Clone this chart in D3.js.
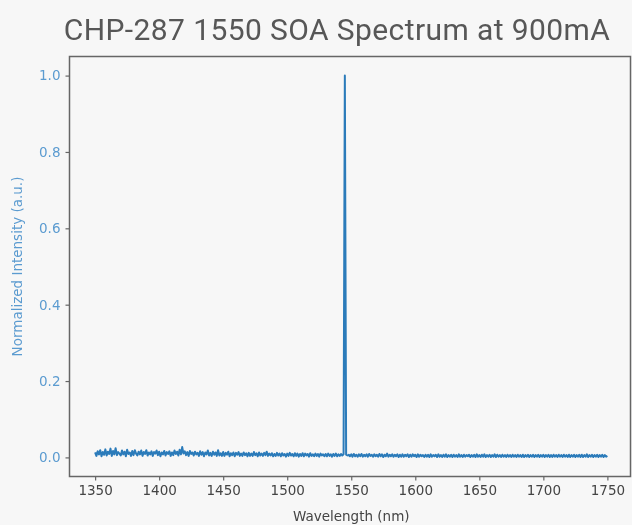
<!DOCTYPE html>
<html>
<head>
<meta charset="utf-8">
<script src="https://cdn.jsdelivr.net/npm/d3@7/dist/d3.min.js"></script>
<style>
  html, body { margin: 0; padding: 0; background: #f7f7f7; }
  svg { display: block; filter: blur(0.3px); }
</style>
</head>
<body>
<script>
// SOA spectrum, sampled every 1 nm from 1350 nm
const wavelengthStart = 1350;
const wavelengthStep = 1;
const intensity = [
  0.013,0.004,0.016,0.008,0.019,0.003,0.014,0.007,0.021,0.005,0.015,0.009,0.023,0.004,0.017,0.008,0.024,0.006,0.014,0.010,
  0.005,0.018,0.008,0.015,0.003,0.020,0.009,0.013,0.004,0.017,0.006,0.019,0.010,0.005,0.015,0.008,0.018,0.004,0.014,0.009,
  0.019,0.005,0.013,0.008,0.016,0.004,0.014,0.010,0.018,0.006,0.015,0.003,0.013,0.008,0.017,0.005,0.014,0.009,0.016,0.004,
  0.013,0.006,0.018,0.009,0.015,0.005,0.020,0.008,0.027,0.010,0.016,0.006,0.014,0.004,0.017,0.009,0.013,0.005,0.015,0.008,
  0.012,0.004,0.016,0.007,0.014,0.003,0.013,0.008,0.018,0.005,0.012,0.004,0.015,0.007,0.013,0.004,0.019,0.005,0.011,0.004,
  0.014,0.004,0.012,0.007,0.015,0.003,0.011,0.006,0.013,0.003,0.012,0.007,0.014,0.004,0.010,0.004,0.013,0.006,0.011,0.003,
  0.012,0.004,0.010,0.004,0.014,0.006,0.011,0.003,0.013,0.005,0.010,0.004,0.012,0.006,0.015,0.004,0.010,0.005,0.011,0.003,
  0.009,0.004,0.012,0.005,0.010,0.003,0.011,0.005,0.009,0.002,0.010,0.004,0.012,0.005,0.009,0.003,0.011,0.004,0.010,0.002,
  0.009,0.004,0.011,0.003,0.010,0.005,0.009,0.002,0.011,0.004,0.008,0.003,0.010,0.004,0.009,0.002,0.010,0.005,0.008,0.003,
  0.009,0.003,0.010,0.004,0.008,0.002,0.009,0.004,0.010,0.003,0.008,0.004,0.009,0.005,0.008,1.000,0.007,0.005,0.007,0.003,
  0.008,0.002,0.009,0.003,0.007,0.002,0.008,0.003,0.009,0.002,0.007,0.003,0.008,0.002,0.009,0.004,0.007,0.002,0.008,0.003,
  0.007,0.002,0.009,0.003,0.008,0.001,0.007,0.003,0.010,0.002,0.007,0.003,0.008,0.002,0.007,0.003,0.008,0.001,0.007,0.002,
  0.008,0.002,0.007,0.003,0.008,0.001,0.007,0.002,0.008,0.003,0.007,0.001,0.008,0.002,0.007,0.003,0.006,0.001,0.007,0.002,
  0.007,0.001,0.008,0.002,0.006,0.003,0.007,0.001,0.008,0.002,0.006,0.001,0.007,0.002,0.008,0.001,0.006,0.002,0.007,0.001,
  0.007,0.002,0.006,0.001,0.008,0.002,0.006,0.001,0.007,0.002,0.006,0.003,0.007,0.001,0.006,0.002,0.007,0.001,0.008,0.002,
  0.006,0.001,0.007,0.002,0.008,0.001,0.006,0.002,0.007,0.001,0.006,0.002,0.008,0.001,0.007,0.002,0.006,0.001,0.007,0.002,
  0.006,0.001,0.007,0.002,0.006,0.001,0.007,0.002,0.006,0.001,0.007,0.002,0.006,0.001,0.007,0.001,0.006,0.002,0.007,0.001,
  0.006,0.002,0.007,0.001,0.006,0.002,0.007,0.001,0.006,0.002,0.007,0.001,0.006,0.002,0.007,0.001,0.006,0.001,0.007,0.002,
  0.006,0.001,0.007,0.002,0.006,0.001,0.007,0.002,0.006,0.001,0.007,0.001,0.006,0.002,0.007,0.001,0.006,0.002,0.007,0.001,
  0.007,0.001,0.006,0.002,0.008,0.001,0.006,0.002,0.007,0.001,0.006,0.002,0.007,0.001,0.006,0.002,0.007,0.001,0.006,0.002,
  0.004
];

const xTicks = [1350, 1400, 1450, 1500, 1550, 1600, 1650, 1700, 1750];
const yTicks = [0.0, 0.2, 0.4, 0.6, 0.8, 1.0];

const titleText = 'CHP-287 1550 SOA Spectrum at 900mA';
const xLabelText = 'Wavelength (nm)';
const yLabelText = 'Normalized Intensity (a.u.)';

const W = 632, H = 525;
const plot = { left: 69.5, top: 56.5, right: 633, bottom: 476.5 };

const lineColor = '#2b7bba';
const yTextColor = '#5b9bd0';
const axisColor = '#666';
const textColor = '#444';

const svg = d3.select('body').append('svg')
  .attr('width', W)
  .attr('height', H);

svg.append('rect')
  .attr('width', W)
  .attr('height', H)
  .attr('fill', '#f7f7f7');

// matplotlib-style 5% margins
const x = d3.scaleLinear()
  .domain([1330, 1770])
  .range([plot.left, plot.right]);

const y = d3.scaleLinear()
  .domain([-0.05, 1.05])
  .range([plot.bottom, plot.top]);

const data = intensity.map((v, i) => [wavelengthStart + i * wavelengthStep, v]);

// spectrum
svg.append('path')
  .datum(data)
  .attr('fill', 'none')
  .attr('stroke', lineColor)
  .attr('stroke-width', 2)
  .attr('stroke-linejoin', 'round')
  .attr('d', d3.line()
    .x(d => x(d[0]))
    .y(d => y(d[1])));

// x axis
const xAxis = svg.append('g')
  .attr('transform', `translate(0,${plot.bottom})`)
  .call(d3.axisBottom(x).tickValues(xTicks).tickSize(4).tickPadding(5).tickFormat(d3.format('d')));
xAxis.select('.domain').remove();
xAxis.selectAll('line').attr('stroke', axisColor).attr('stroke-width', 1.2);
xAxis.selectAll('text')
  .attr('fill', textColor)
  .attr('font-family', 'DejaVu Sans, sans-serif')
  .attr('font-size', '13.5px');

// y axis
const yAxis = svg.append('g')
  .attr('transform', `translate(${plot.left},0)`)
  .call(d3.axisLeft(y).tickValues(yTicks).tickSize(4).tickPadding(5).tickFormat(d3.format('.1f')));
yAxis.select('.domain').remove();
yAxis.selectAll('line').attr('stroke', axisColor).attr('stroke-width', 1.2);
yAxis.selectAll('text')
  .attr('fill', yTextColor)
  .attr('font-family', 'DejaVu Sans, sans-serif')
  .attr('font-size', '13.5px');

// frame
svg.append('rect')
  .attr('x', plot.left)
  .attr('y', plot.top)
  .attr('width', plot.right - plot.left - 2.5)
  .attr('height', plot.bottom - plot.top)
  .attr('fill', 'none')
  .attr('stroke', axisColor)
  .attr('stroke-width', 1.5);

// title
svg.append('text')
  .attr('x', 337)
  .attr('y', 40)
  .attr('text-anchor', 'middle')
  .attr('font-family', 'Roboto, sans-serif')
  .attr('font-size', '30px')
  .attr('letter-spacing', '0.4px')
  .attr('fill', '#575757')
  .text(titleText);

// axis labels
svg.append('text')
  .attr('x', (plot.left + plot.right) / 2)
  .attr('y', 521)
  .attr('text-anchor', 'middle')
  .attr('font-family', 'DejaVu Sans, sans-serif')
  .attr('font-size', '13.5px')
  .attr('fill', textColor)
  .text(xLabelText);

svg.append('text')
  .attr('transform', `translate(22,${(plot.top + plot.bottom) / 2}) rotate(-90)`)
  .attr('text-anchor', 'middle')
  .attr('font-family', 'DejaVu Sans, sans-serif')
  .attr('font-size', '13.5px')
  .attr('fill', yTextColor)
  .text(yLabelText);
</script>
</body>
</html>
